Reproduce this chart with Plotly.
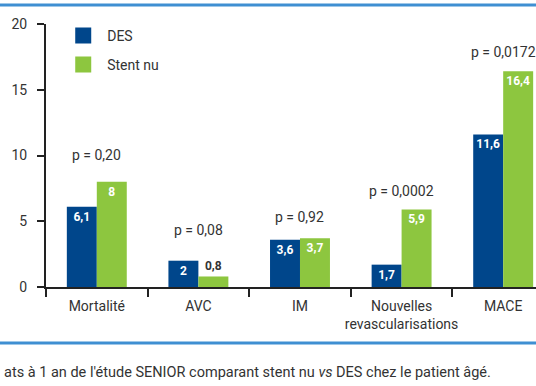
import plotly.graph_objects as go

categories = ["Mortalité", "AVC", "IM", "Nouvelles<br>revascularisations", "MACE"]
des_values = [6.1, 2.0, 3.6, 1.7, 11.6]
stent_values = [8.0, 0.8, 3.7, 5.9, 16.4]
p_labels = ["p = 0,20", "p = 0,08", "p = 0,92", "p = 0,0002", "p = 0,0172"]
series_names = ["DES", "Stent nu"]
y_ticks = [0, 5, 10, 15, 20]
caption = "ats à 1 an de l'étude SENIOR comparant stent nu <i>vs</i> DES chez le patient âgé."

DES_COLOR = "#00468b"
STENT_COLOR = "#8dc63f"
TEXT_COLOR = "#333333"
AXIS_COLOR = "#222222"
LINE_BLUE = "#3f8fd2"
FONT = "Roboto"


def fmt(v):
    return f"{v:g}".replace(".", ",")


def positions(vals):
    return ["outside" if v < 1 else "inside" for v in vals]


fig = go.Figure()
for name, vals, color in [(series_names[0], des_values, DES_COLOR),
                          (series_names[1], stent_values, STENT_COLOR)]:
    fig.add_trace(go.Bar(
        x=categories, y=vals, name=name, marker=dict(color=color, line=dict(width=0)),
        text=[fmt(v) for v in vals], textposition=positions(vals),
        insidetextanchor="end",
        insidetextfont=dict(color="white", size=12, family=FONT, weight="bold"),
        outsidetextfont=dict(color=TEXT_COLOR, size=12, family=FONT, weight="bold"),
        cliponaxis=False, showlegend=False,
    ))
    # legend entry
    fig.add_trace(go.Scatter(
        x=[None], y=[None], mode="markers", name=name,
        marker=dict(symbol="square", size=18, color=color),
        legendgroup=name,
    ))

# p-value labels above each group
p_shift = [27, 31, 21, 18, 19.5]
for i, (cat, lab) in enumerate(zip(categories, p_labels)):
    fig.add_annotation(
        x=cat, y=max(des_values[i], stent_values[i]), text=lab, showarrow=False,
        yanchor="middle", xanchor="center", yshift=p_shift[i],
        font=dict(size=14, color=TEXT_COLOR, family=FONT),
    )

# caption
fig.add_annotation(
    xref="paper", yref="paper", x=-0.09, y=-0.3245, text=caption, showarrow=False,
    xanchor="left", yanchor="middle", font=dict(size=14.5, color=TEXT_COLOR, family=FONT),
)

# decorative blue rules
for yy in [1.072, -0.2125]:
    fig.add_shape(type="line", xref="paper", yref="paper", x0=-0.2, x1=1.1, y0=yy, y1=yy,
                  line=dict(color=LINE_BLUE, width=3))

fig.update_layout(
    width=536, height=386,
    margin=dict(l=46, r=0, t=24, b=98.5, pad=0, autoexpand=False),
    paper_bgcolor="white", plot_bgcolor="white",
    barmode="group", bargap=0.41, bargroupgap=0,
    font=dict(family=FONT, color=TEXT_COLOR, size=13),
    uniformtext=dict(minsize=12, mode="show"),
    legend=dict(x=0.027, y=1.016, xanchor="left", yanchor="top", itemwidth=38,
                font=dict(size=14, color=TEXT_COLOR, family=FONT),
                tracegroupgap=8, traceorder="grouped", bgcolor="rgba(0,0,0,0)"),
    showlegend=True,
)
fig.update_xaxes(
    range=[-0.5, 4.323], showline=True, linecolor=AXIS_COLOR, linewidth=2,
    ticks="outside", tickson="boundaries", ticklen=8, tickwidth=2, tickcolor=AXIS_COLOR,
    showgrid=False, zeroline=False, tickfont=dict(size=14, color=TEXT_COLOR, family=FONT),
    ticklabelstandoff=5, tickangle=0, automargin=False, fixedrange=True,
)
fig.update_yaxes(
    range=[0, 20], tickvals=y_ticks, showline=True, linecolor=AXIS_COLOR, linewidth=2,
    ticks="outside", ticklen=7, tickwidth=2, tickcolor=AXIS_COLOR,
    showgrid=False, zeroline=False, tickfont=dict(size=14, color=TEXT_COLOR, family=FONT),
    ticklabelstandoff=7, automargin=False, fixedrange=True,
)

fig.write_html(
    "out.html",
    config={"displayModeBar": False},
    post_script="document.body.style.margin='0';document.body.style.overflow='hidden';",
)
